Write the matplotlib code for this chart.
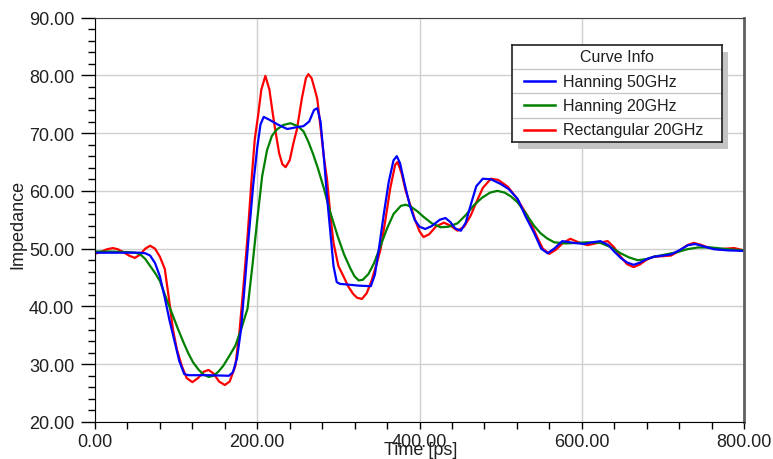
import matplotlib
matplotlib.use("Agg")
import matplotlib.pyplot as plt
from matplotlib.ticker import MultipleLocator, FormatStrFormatter
from matplotlib.patches import Rectangle

plt.rcParams['font.family'] = ['Liberation Sans', 'DejaVu Sans']

# Hanning 50GHz (blue)
t_blue = [0, 20, 40, 55, 62, 68, 74, 80, 86, 92, 98, 104, 110, 115, 140, 165, 170, 175, 180,
          185, 190, 195, 200, 204, 208, 215, 225, 237, 248, 257, 264, 270, 274, 278, 282, 286,
          290, 294, 298, 302, 310, 325, 340, 345, 350, 356, 362, 368, 372, 376, 382, 388, 394,
          400, 407, 415, 425, 432, 438, 444, 451, 457, 463, 470, 478, 488, 500, 510, 521, 531,
          541, 550, 558, 566, 576, 590, 603, 613, 623, 633, 640, 648, 656, 664, 672, 680, 689,
          700, 710, 720, 731, 740, 750, 763, 780, 800]
z_blue = [49.3, 49.3, 49.3, 49.3, 49.2, 48.8, 47.5, 45.2, 41.5, 37.5, 34.0, 30.5, 28.3, 28.1,
          28.1, 28.0, 28.6, 31.0, 36.0, 44.5, 53.0, 61.0, 67.5, 71.5, 72.8, 72.3, 71.5, 70.7,
          71.0, 71.2, 72.0, 74.0, 74.3, 72.0, 66.0, 59.0, 53.0, 47.0, 44.2, 43.9, 43.8, 43.6,
          43.5, 45.5, 50.0, 56.0, 61.5, 65.3, 66.0, 64.8, 61.0, 57.5, 55.0, 53.8, 53.4, 53.9,
          55.0, 55.3, 54.6, 53.5, 53.1, 54.5, 57.5, 60.8, 62.1, 62.0, 61.2, 60.3, 58.6, 55.5,
          52.8, 50.0, 49.2, 50.0, 51.3, 51.0, 50.8, 51.1, 51.3, 50.6, 49.5, 48.4, 47.6, 47.2,
          47.6, 48.2, 48.6, 48.8, 49.0, 49.7, 50.6, 50.8, 50.4, 49.9, 49.7, 49.6]

# Hanning 20GHz (green)
t_green = [0, 20, 40, 50, 56, 62, 68, 74, 80, 88, 96, 102, 109, 115, 121, 128, 134, 140, 146,
           152, 158, 165, 173, 180, 188, 194, 200, 206, 212, 218, 224, 232, 241, 250, 257, 263,
           269, 275, 282, 290, 299, 307, 315, 320, 325, 330, 337, 344, 352, 360, 368, 377, 383,
           389, 397, 405, 415, 426, 436, 447, 457, 467, 477, 487, 496, 505, 513, 521, 531, 541,
           549, 557, 566, 580, 595, 607, 623, 635, 648, 658, 669, 680, 689, 700, 718, 730, 743,
           760, 780, 800]
z_green = [49.5, 49.5, 49.4, 49.3, 49.0, 48.2, 47.0, 45.8, 44.4, 41.3, 38.4, 36.2, 33.8, 31.9,
           30.3, 29.0, 28.2, 27.8, 28.0, 28.7, 29.7, 31.3, 33.2, 36.0, 39.6, 47.0, 55.0, 62.5,
           67.0, 69.5, 70.6, 71.4, 71.7, 71.2, 70.3, 68.5, 66.3, 63.8, 60.5, 56.3, 52.2, 49.0,
           46.5, 45.2, 44.5, 44.6, 45.6, 47.5, 50.5, 53.5, 56.0, 57.4, 57.6, 57.3, 56.5, 55.5,
           54.4, 53.7, 53.8, 54.4, 55.8, 57.5, 58.8, 59.7, 60.0, 59.7, 59.0, 58.0, 56.1, 54.0,
           52.7, 51.8, 51.1, 50.9, 51.0, 51.1, 51.0, 50.3, 49.2, 48.5, 48.0, 48.2, 48.6, 48.9,
           49.4, 49.9, 50.2, 50.2, 49.9, 49.7]

# Rectangular 20GHz (red)
t_red = [0, 8, 15, 22, 28, 35, 42, 49, 55, 62, 68, 74, 80, 86, 91, 96, 101, 107, 113, 120, 127,
         134, 140, 146, 153, 160, 166, 173, 178, 183, 188, 193, 197, 201, 205, 210, 215, 219,
         222, 227, 231, 235, 240, 245, 249, 255, 260, 263, 267, 271, 274, 278, 282, 286, 290,
         294, 300, 306, 312, 318, 323, 329, 335, 341, 347, 352, 358, 364, 370, 373, 378, 383,
         389, 395, 400, 405, 412, 420, 430, 438, 447, 455, 463, 470, 478, 488, 497, 509, 520,
         533, 545, 552, 560, 568, 577, 586, 596, 607, 620, 632, 640, 648, 656, 664, 672, 680,
         689, 700, 710, 720, 730, 738, 746, 756, 768, 778, 788, 800]
z_red = [49.1, 49.5, 49.9, 50.1, 49.9, 49.4, 48.8, 48.4, 48.9, 50.0, 50.5, 50.0, 48.6, 46.5,
         41.5, 36.1, 32.5, 29.7, 27.6, 26.9, 27.6, 28.7, 29.0, 28.4, 27.0, 26.4, 27.0, 29.7,
         35.5, 43.5, 52.0, 62.0, 69.0, 73.0, 77.5, 79.9, 77.5, 73.5, 70.7, 66.5, 64.6, 64.1,
         65.3, 68.5, 70.7, 76.0, 79.5, 80.2, 79.5, 77.5, 75.9, 71.0, 66.0, 62.0, 56.0, 51.0,
         47.0, 45.3, 43.5, 42.2, 41.5, 41.3, 42.3, 44.5, 47.3, 49.9, 55.0, 60.5, 64.5, 65.0,
         63.0, 60.0, 57.4, 54.8, 53.0, 52.0, 52.5, 53.8, 54.5, 54.0, 53.1, 53.8, 55.7, 58.0,
         60.5, 62.1, 61.9, 60.7, 58.7, 55.7, 52.0, 50.0, 49.1, 49.8, 51.0, 51.7, 51.1, 50.6,
         51.0, 51.3, 50.2, 48.6, 47.3, 46.8, 47.3, 48.1, 48.6, 48.7, 48.8, 49.6, 50.6, 51.0,
         50.7, 50.2, 49.9, 50.0, 50.1, 49.7]

series = [
    ("Hanning 50GHz", t_blue, z_blue, "#0000ff"),
    ("Hanning 20GHz", t_green, z_green, "#008000"),
    ("Rectangular 20GHz", t_red, z_red, "#ff0000"),
]

W, H = 773, 460
fig = plt.figure(figsize=(W / 100, H / 100), dpi=100)
ax = fig.add_axes([95 / W, (H - 423) / H, (744 - 95) / W, (423 - 18.5) / H])

# red underneath, blue on top
for name, t, z, c in reversed(series):
    ax.plot(t, z, color=c, lw=1.6, solid_joinstyle='round')

ax.set_xlim(0, 800)
ax.set_ylim(20, 90)
ax.xaxis.set_major_locator(MultipleLocator(200))
ax.xaxis.set_minor_locator(MultipleLocator(40))
ax.yaxis.set_major_locator(MultipleLocator(10))
ax.yaxis.set_minor_locator(MultipleLocator(2))
ax.xaxis.set_major_formatter(FormatStrFormatter('%.2f'))
ax.yaxis.set_major_formatter(FormatStrFormatter('%.2f'))
ax.grid(True, which='major', color='#d0d0d0', lw=1.0)
ax.set_axisbelow(True)

ax.tick_params(axis='y', which='major', length=10, width=1, pad=5, labelsize=13, colors='black')
ax.tick_params(axis='y', which='minor', length=5, width=1)
ax.tick_params(axis='x', which='major', length=5, width=1, pad=3, labelsize=13)
ax.tick_params(axis='x', which='minor', length=5, width=1)
for lab in ax.get_yticklabels() + ax.get_xticklabels():
    lab.set_color('#202020')

ax.spines['left'].set_color('black')
ax.spines['bottom'].set_color('black')
ax.spines['top'].set_color('#404040')
ax.spines['right'].set_color('#606060')
ax.spines['right'].set_linewidth(2)

fig.text(18 / W, 1 - 224 / H, "Impedance", rotation=90, ha='center', va='center',
         fontsize=13, color='#202020')
fig.text(421 / W, 1 - 451 / H, "Time [ps]", ha='center', va='center',
         fontsize=13, color='#202020')

# legend box drawn as a small table
lx0, ly0, lw_, lh_ = 512, 46, 210, 97
fig.patches.append(Rectangle(((lx0 + 6) / W, 1 - (ly0 + lh_ + 7) / H), lw_ / W, lh_ / H,
                             transform=fig.transFigure, facecolor='#c4c4c4',
                             edgecolor='none', zorder=5))
lax = fig.add_axes([lx0 / W, 1 - (ly0 + lh_) / H, lw_ / W, lh_ / H], zorder=6)
lax.set_xlim(0, lw_)
lax.set_ylim(lh_, 0)
lax.set_xticks([])
lax.set_yticks([])
for s in lax.spines.values():
    s.set_color('#202020')
    s.set_linewidth(1.2)
lax.text(lw_ / 2, 11, "Curve Info", ha='center', va='center', fontsize=11.5, color='#202020')
row_y = [36, 60, 85]
for yy in [24, 48, 73]:
    lax.axhline(yy, color='#c8c8c8', lw=1)
for (name, t, z, c), yy in zip(series, row_y):
    lax.plot([12, 43], [yy, yy], color=c, lw=1.8)
    lax.text(51, yy, name, ha='left', va='center', fontsize=11.5, color='#202020')

fig.savefig("out.png", dpi=100)
